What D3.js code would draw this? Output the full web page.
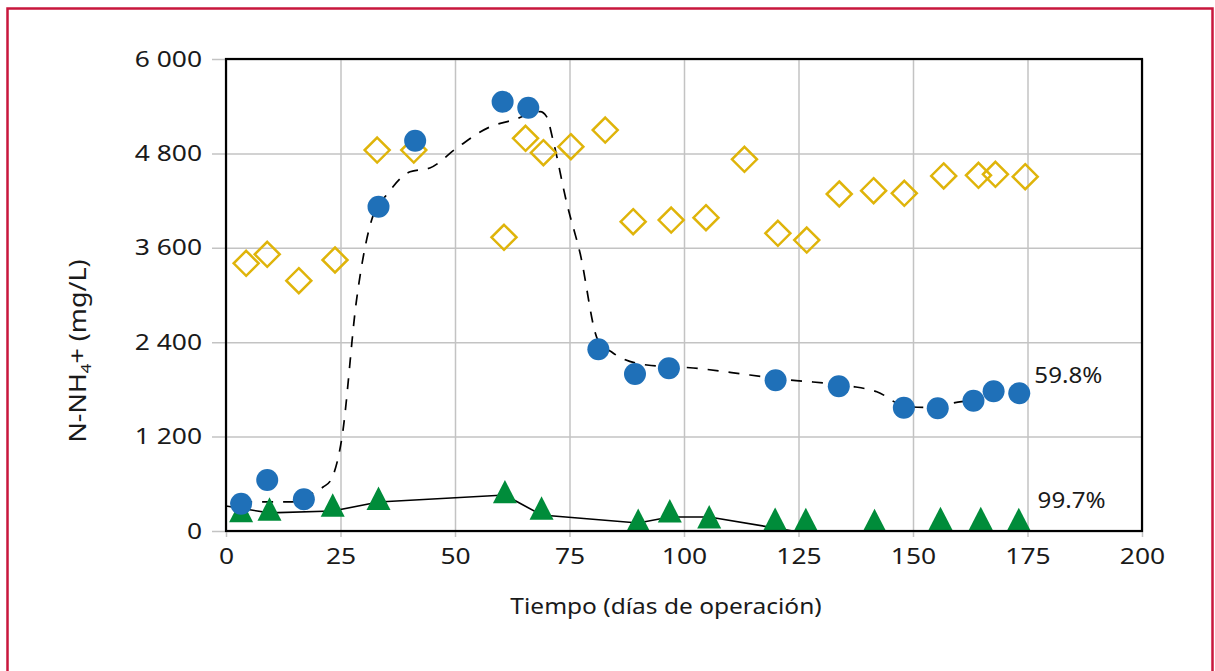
<!DOCTYPE html>
<html>
<head>
<meta charset="utf-8">
<script src="https://cdn.jsdelivr.net/npm/d3@7"></script>
<style>
  html, body { margin: 0; padding: 0; background: #fff; }
  svg { display: block; font-family: "Noto Sans", "Open Sans", sans-serif; }
</style>
</head>
<body>
<svg id="chart" width="1215" height="671"></svg>
<script>
// ---- Data ----
const xTicks = [0, 25, 50, 75, 100, 125, 150, 175, 200];
const yTicks = [0, 1200, 2400, 3600, 4800, 6000];
const yTickLabels = ["0", "1 200", "2 400", "3 600", "4 800", "6 000"];

// Influent (yellow diamonds)
const influentDays = [4.4, 9.0, 15.9, 23.8, 33.0, 41.0, 60.7, 65.4, 69.3, 75.3, 82.8, 88.9, 97.2, 104.8, 113.2, 120.5, 126.8, 133.9, 141.4, 148.1, 156.7, 164.3, 168.0, 174.5];
const influentValues = [3403, 3517, 3182, 3445, 4843, 4843, 3733, 4992, 4809, 4885, 5097, 3932, 3953, 3983, 4725, 3784, 3699, 4284, 4326, 4293, 4513, 4522, 4534, 4504];

// Effluent 1 (blue circles)
const blueDays = [3.3, 9.0, 17.0, 33.3, 41.3, 60.4, 66.0, 81.3, 89.3, 96.7, 120.0, 133.8, 148.0, 155.4, 163.2, 167.6, 173.2];
const blueValues = [347, 648, 403, 4122, 4961, 5457, 5381, 2310, 1996, 2068, 1916, 1839, 1567, 1560, 1656, 1776, 1751];

// Trend of blue series (dashed line)
const blueTrendDays = [3.3, 14, 19, 21.2, 22.9, 25.3, 28.5, 31.8, 35.4, 40.2, 44.5, 50.4, 57.6, 62.7, 68.6, 70.0, 71.4, 74.4, 77.3, 81.2, 84.5, 91.9, 102, 114.4, 123.1, 136.2, 142.1, 148.6, 153, 160.6, 163.2];
const blueTrendValues = [369, 369, 483, 559, 648, 1182, 2936, 3953, 4296, 4567, 4614, 4869, 5136, 5225, 5330, 5267, 4970, 4170, 3534, 2428, 2263, 2110, 2072, 1983, 1920, 1843, 1771, 1580, 1572, 1644, 1656];

// Effluent 2 (green triangles)
const greenDays = [3.3, 9.5, 23.3, 33.3, 60.9, 68.9, 90.0, 96.9, 105.5, 119.9, 126.6, 141.6, 156.0, 164.8, 173.1];
const greenValues = [210, 230, 280, 366, 451, 242, 89, 208, 132, 102, 98, 85, 111, 111, 98];

// Trend of green series (solid line)
const greenTrendDays = [0, 9.5, 23.3, 33.3, 60.9, 68.9, 90.0, 96.9, 105.5, 123.8, 173.1];
const greenTrendValues = [318, 230, 254, 368, 457, 203, 102, 178, 178, 0, 0];

const annotations = [
  { text: "59.8%", day: 176.5, value: 1880 },
  { text: "99.7%", day: 177.2, value: 290 }
];

const xTitle = "Tiempo (días de operación)";

// ---- Layout ----
const svg = d3.select("#chart");
const pLeft = 226, pRight = 1142, pTop = 59, pBottom = 531;
const x = d3.scaleLinear().domain([0, 200]).range([pLeft, pRight]);
const y = d3.scaleLinear().domain([0, 6000]).range([pBottom, pTop]);

const gridColor = "#c3c3c3";
const textColor = "#1a1a1a";

// Red frame
svg.append("rect")
  .attr("x", 7.5).attr("y", 8.5).attr("width", 1205).attr("height", 700)
  .attr("fill", "none").attr("stroke", "#c8173d").attr("stroke-width", 2.5);

// Horizontal grid + outer ticks
const yGrid = svg.append("g").attr("transform", `translate(${pLeft},0)`)
  .call(d3.axisLeft(y).tickValues(yTicks).tickSizeInner(-(pRight - pLeft)).tickSizeOuter(0).tickFormat(""));
yGrid.select(".domain").remove();
yGrid.selectAll(".tick line").attr("x1", -14).attr("stroke", gridColor).attr("stroke-width", 1.5);

// Vertical grid + outer ticks
const xGrid = svg.append("g").attr("transform", `translate(0,${pBottom})`)
  .call(d3.axisBottom(x).tickValues(xTicks).tickSizeInner(-(pBottom - pTop)).tickSizeOuter(0).tickFormat(""));
xGrid.select(".domain").remove();
xGrid.selectAll(".tick line").attr("y1", 6).attr("stroke", gridColor).attr("stroke-width", 1.5);

// Y tick labels
const yAxis = svg.append("g").attr("transform", `translate(${pLeft - 24},0)`)
  .call(d3.axisLeft(y).tickValues(yTicks).tickSize(0).tickFormat((d, i) => yTickLabels[i]));
yAxis.select(".domain").remove();
yAxis.selectAll("text").attr("font-size", 22).attr("font-family", "Noto Sans").attr("fill", textColor)
  .attr("x", 0).attr("transform", "scale(1.2,1)");

// X tick labels
const xAxis = svg.append("g").attr("transform", `translate(0,${pBottom + 14})`)
  .call(d3.axisBottom(x).tickValues(xTicks).tickSize(0).tickFormat(d3.format("d")));
xAxis.select(".domain").remove();
xAxis.selectAll("text").attr("font-size", 22).attr("font-family", "Noto Sans").attr("fill", textColor)
  .attr("transform", "scale(1.2,1)");

// Lines
const greenLine = d3.line().x((d, i) => x(greenTrendDays[i])).y(d => y(d));
svg.append("path").attr("d", greenLine(greenTrendValues))
  .attr("fill", "none").attr("stroke", "#000").attr("stroke-width", 1.6);

const blueLine = d3.line().x((d, i) => x(blueTrendDays[i])).y(d => y(d)).curve(d3.curveMonotoneX);
svg.append("path").attr("d", blueLine(blueTrendValues))
  .attr("fill", "none").attr("stroke", "#000").attr("stroke-width", 1.7).attr("stroke-dasharray", "11,10");

// Triangles
const triPath = "M0,-15.6L12,7.8L-12,7.8Z";
svg.append("g").selectAll("path").data(greenValues).join("path")
  .attr("d", triPath)
  .attr("transform", (d, i) => `translate(${x(greenDays[i])},${y(d)})`)
  .attr("fill", "#008c3a");

// Diamonds
const diaPath = "M0,-12.5L12.5,0L0,12.5L-12.5,0Z";
svg.append("g").selectAll("path").data(influentValues).join("path")
  .attr("d", diaPath)
  .attr("transform", (d, i) => `translate(${x(influentDays[i])},${y(d)})`)
  .attr("fill", "none").attr("stroke", "#dfb40a").attr("stroke-width", 2.5);

// Circles
svg.append("g").selectAll("circle").data(blueValues).join("circle")
  .attr("cx", (d, i) => x(blueDays[i])).attr("cy", d => y(d)).attr("r", 11)
  .attr("fill", "#1f70b8");

// Plot border
svg.append("rect")
  .attr("x", pLeft).attr("y", pTop).attr("width", pRight - pLeft).attr("height", pBottom - pTop)
  .attr("fill", "none").attr("stroke", "#000").attr("stroke-width", 2.2);

// Annotations
svg.append("g").selectAll("text").data(annotations).join("text")
  .attr("transform", d => `translate(${x(d.day)},${y(d.value)}) scale(1.15,1)`)
  .attr("font-size", 21).attr("fill", textColor)
  .text(d => d.text);

// X title
svg.append("text")
  .attr("transform", `translate(${(pLeft + pRight) / 2 - 18},614) scale(1.14,1)`)
  .attr("text-anchor", "middle").attr("font-size", 21.5).attr("fill", textColor)
  .text(xTitle);

// Y title
const yt = svg.append("text")
  .attr("transform", "translate(86,351) rotate(-90) scale(1.12,1)")
  .attr("text-anchor", "middle").attr("font-size", 24).attr("fill", textColor);
yt.append("tspan").text("N-NH");
yt.append("tspan").attr("font-size", 15).attr("dy", 5).text("4");
yt.append("tspan").attr("dy", -5).text("+ (mg/L)");
</script>
</body>
</html>
